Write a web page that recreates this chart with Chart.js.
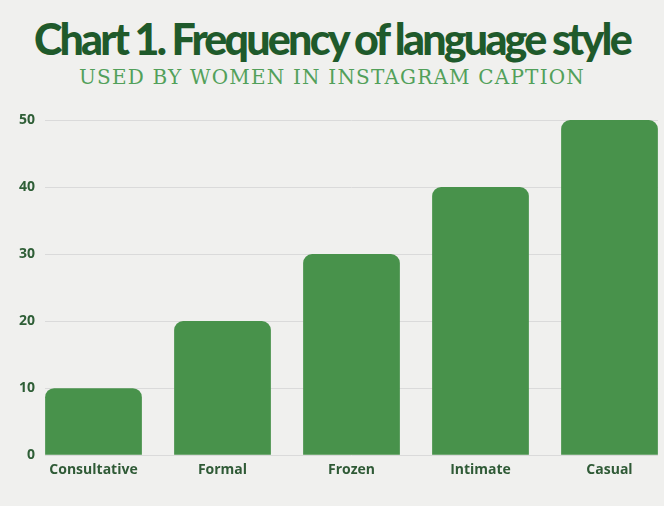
<!DOCTYPE html>
<html>
<head>
<meta charset="utf-8">
<script src="https://cdn.jsdelivr.net/npm/chart.js@4"></script>
<style>
  html, body { margin: 0; padding: 0; }
  body { width: 664px; height: 506px; background: #f0f0ee; position: relative; overflow: hidden; }
  #title, #subtitle { position: absolute; left: 0; width: 664px; text-align: center; white-space: nowrap; margin: 0; }
  #title { top: 13px; font-family: Lato, sans-serif; font-weight: 900; font-size: 43px; color: #1f5a2b; }
  #subtitle { top: 65px; font-family: "DejaVu Serif", serif; font-weight: normal; font-size: 20px; color: #52a05a; }
  #wrap { position: absolute; left: 0; top: 0; width: 664px; height: 506px; }
</style>
</head>
<body>
<div id="title">Chart 1. Frequency of language style</div>
<div id="subtitle">USED BY WOMEN IN INSTAGRAM CAPTION</div>
<div id="wrap"><canvas id="chart" width="664" height="506"></canvas></div>
<script>
// chart data
const categories = ['Consultative', 'Formal', 'Frozen', 'Intimate', 'Casual'];
const frequency = [10, 20, 30, 40, 50];
const yTicks = [0, 10, 20, 30, 40, 50];

// stretch the heading letters so they span the same width as the picture
function fitText(id, target) {
    const el = document.getElementById(id);
    const span = document.createElement('span');
    span.textContent = el.textContent;
    el.textContent = '';
    el.appendChild(span);
    const w = span.getBoundingClientRect().width;
    const n = span.textContent.length;
    span.style.letterSpacing = ((target - w) / n) + 'px';
}
fitText('title', 596);
fitText('subtitle', 506);

const ctx = document.getElementById('chart').getContext('2d');
new Chart(ctx, {
    type: 'bar',
    data: {
        datasets: [{
            data: frequency.map((v, i) => ({ x: i, y: v })),
            backgroundColor: '#48924b',
            borderRadius: 9,
            borderSkipped: 'bottom',
            barPercentage: 0.75,
            categoryPercentage: 1
        }]
    },
    options: {
        responsive: false,
        animation: false,
        layout: { padding: { top: 120, right: 6, bottom: 22, left: 0 } },
        plugins: { legend: { display: false }, tooltip: { enabled: false } },
        scales: {
            x: {
                type: 'linear',
                min: -0.376,
                max: 4.376,
                offset: false,
                grid: { display: false, drawTicks: false },
                border: { display: false },
                afterBuildTicks: scale => { scale.ticks = categories.map((c, i) => ({ value: i })); },
                ticks: {
                    autoSkip: false,
                    maxRotation: 0,
                    padding: 6,
                    color: '#2f5a36',
                    font: { family: '"Open Sans", sans-serif', weight: 'bold', size: 14 },
                    callback: v => categories[v]
                }
            },
            y: {
                min: 0,
                max: 50,
                afterFit: scale => { scale.width = 45; },
                afterBuildTicks: scale => { scale.ticks = yTicks.map(v => ({ value: v })); },
                grid: { color: '#dadada', lineWidth: 1, drawTicks: false },
                border: { display: false },
                ticks: {
                    padding: 10,
                    color: '#2e5e36',
                    font: { family: '"Open Sans", sans-serif', weight: 'bold', size: 14 }
                }
            }
        }
    }
});
</script>
</body>
</html>
